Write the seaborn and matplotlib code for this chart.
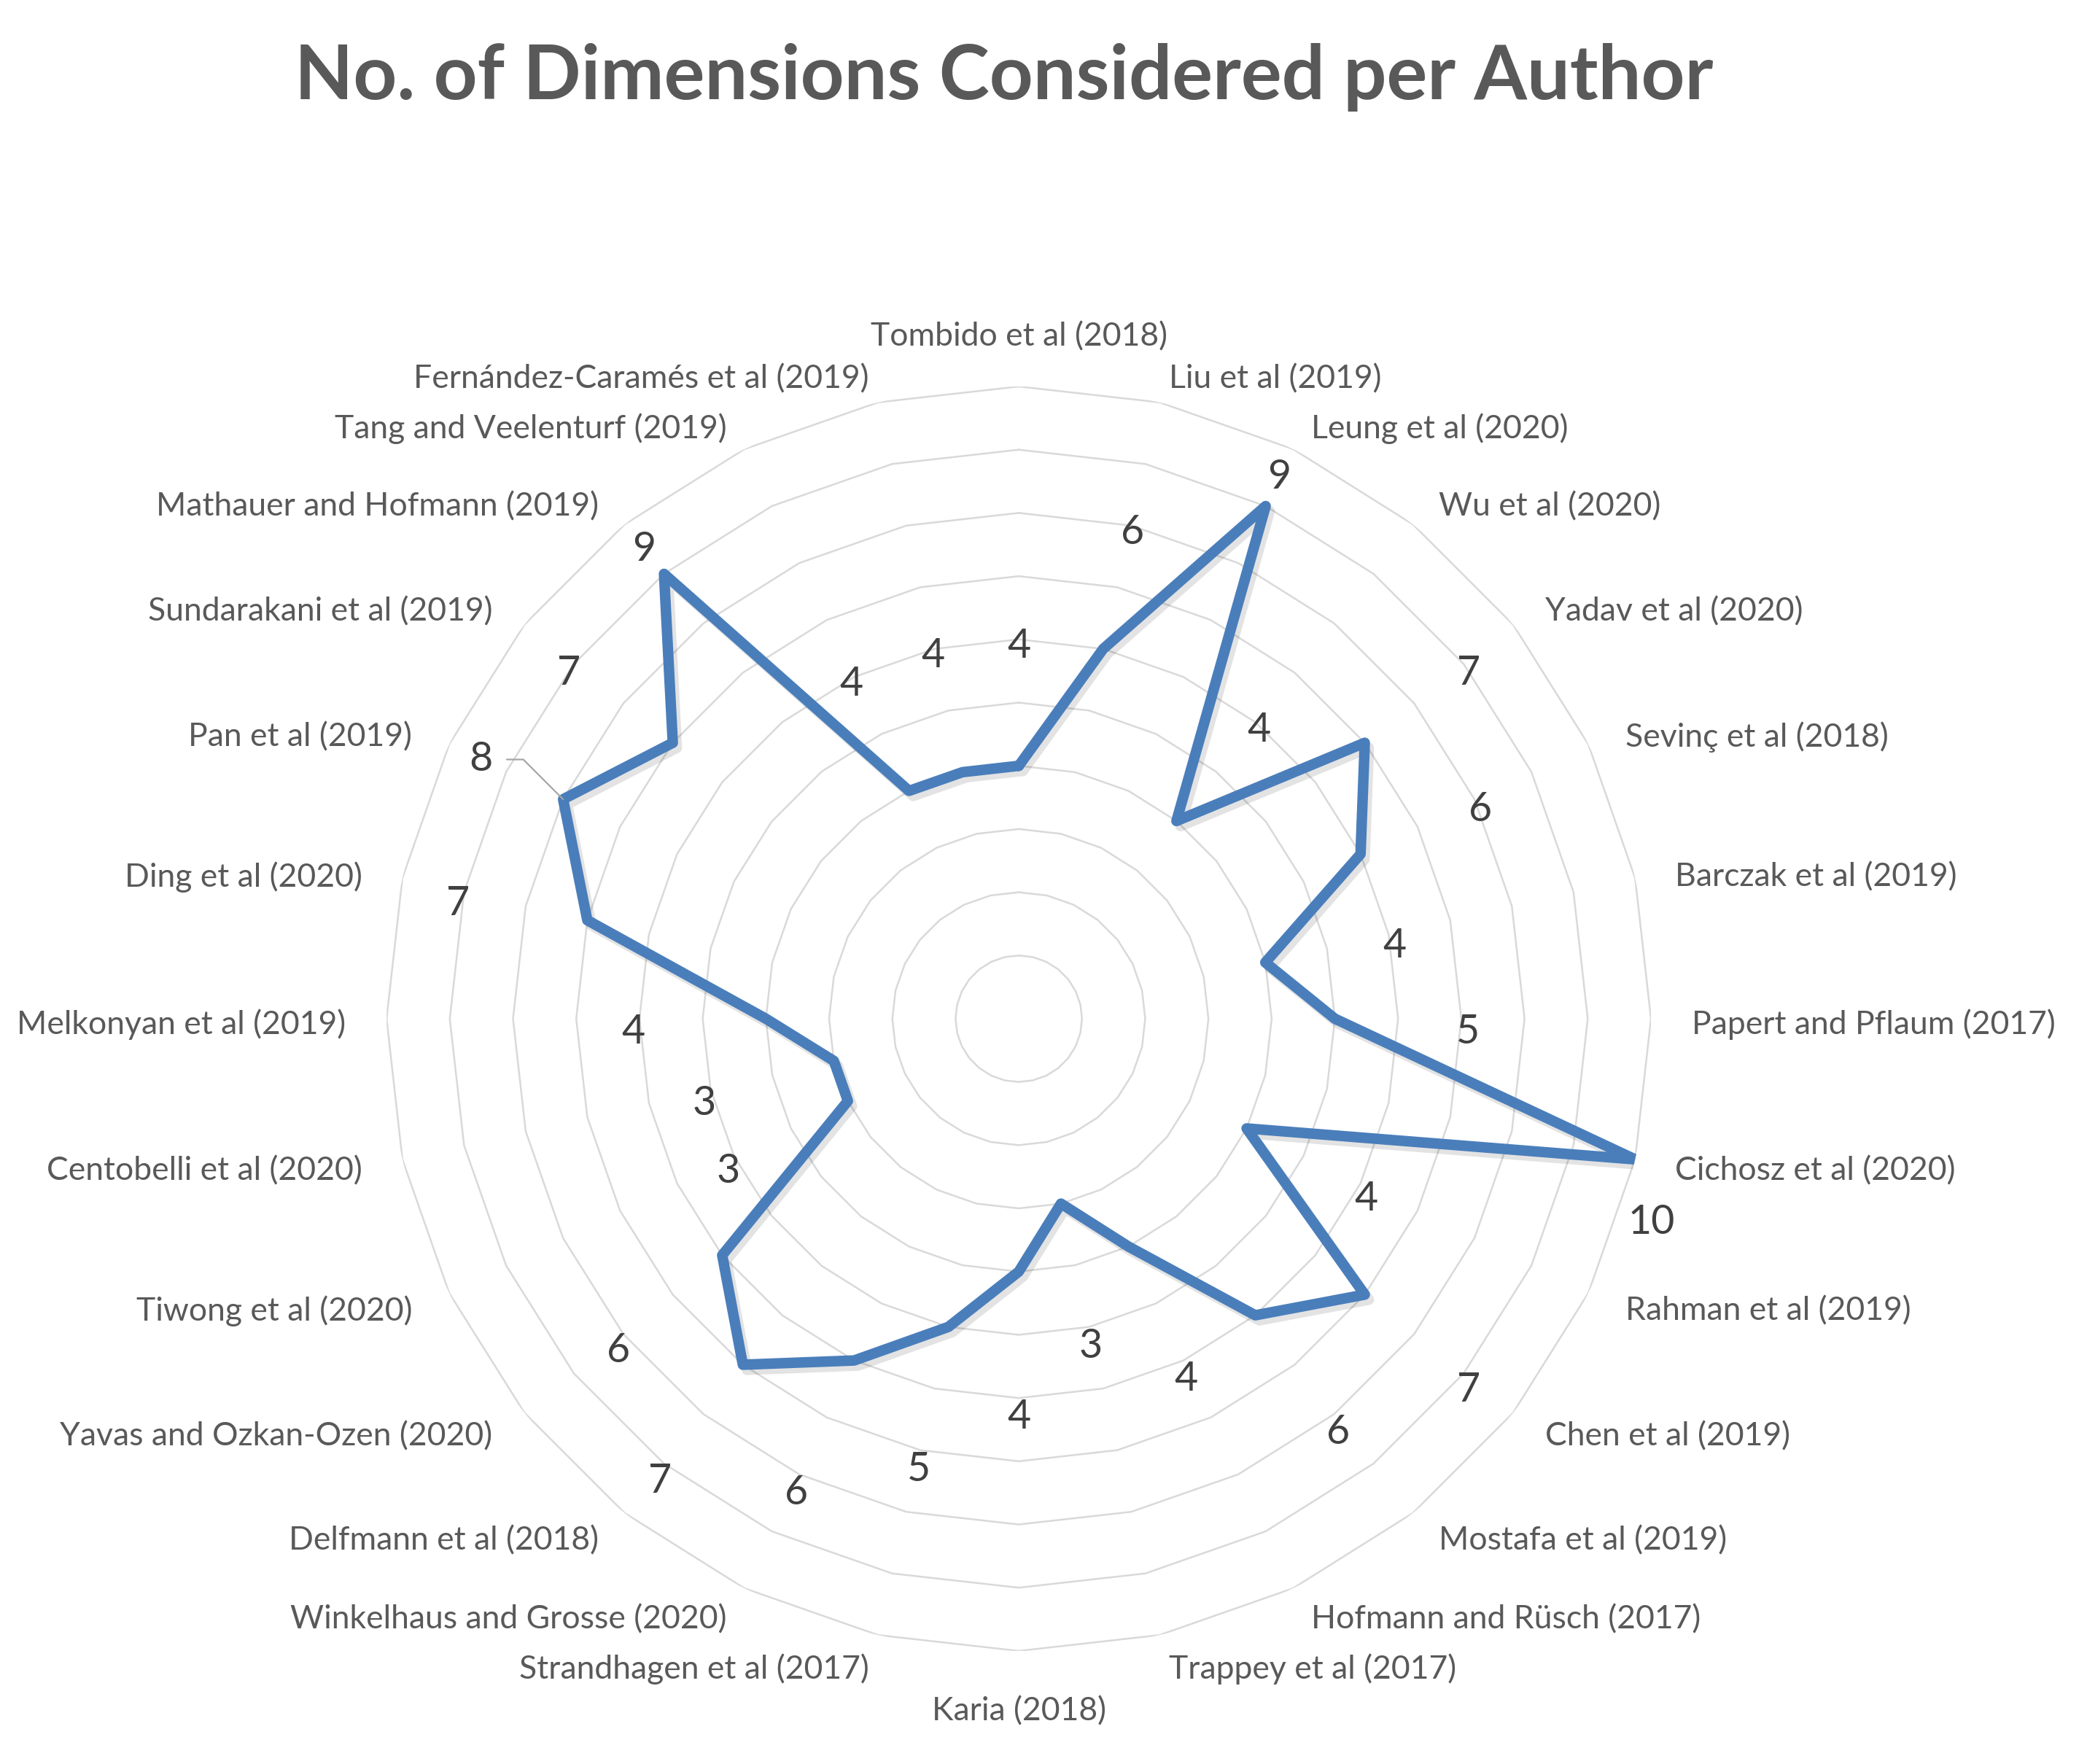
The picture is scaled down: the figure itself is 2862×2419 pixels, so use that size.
import numpy as np
import pandas as pd
import matplotlib
matplotlib.use("Agg")
import matplotlib.pyplot as plt
import matplotlib.patheffects as pe
import seaborn as sns

sns.set_theme(style="white")
plt.rcParams["font.family"] = ["Lato", "DejaVu Sans"]

# authors clockwise from the top
authors = [
    "Tombido et al (2018)", "Liu et al (2019)", "Leung et al (2020)", "Wu et al (2020)",
    "Yadav et al (2020)", "Sevinç et al (2018)", "Barczak et al (2019)",
    "Papert and Pflaum (2017)", "Cichosz et al (2020)", "Rahman et al (2019)",
    "Chen et al (2019)", "Mostafa et al (2019)", "Hofmann and Rüsch (2017)",
    "Trappey et al (2017)", "Karia (2018)", "Strandhagen et al (2017)",
    "Winkelhaus and Grosse (2020)", "Delfmann et al (2018)",
    "Yavas and Ozkan-Ozen (2020)", "Tiwong et al (2020)", "Centobelli et al (2020)",
    "Melkonyan et al (2019)", "Ding et al (2020)", "Pan et al (2019)",
    "Sundarakani et al (2019)", "Mathauer and Hofmann (2019)",
    "Tang and Veelenturf (2019)", "Fernández-Caramés et al (2019)",
]
dimensions = [4, 6, 9, 4, 7, 6, 4, 5, 10, 4, 7, 6, 4, 3, 4, 5, 6, 7, 6, 3, 3, 4, 7, 8, 7, 9, 4, 4]
ring_levels = [1, 2, 3, 4, 5, 6, 7, 8, 9, 10]

df = pd.DataFrame({"author": authors, "dims": dimensions})
n = len(df)
df["theta"] = np.arange(n) * 2 * np.pi / n
closed = pd.concat([df, df.iloc[[0]]], ignore_index=True)

fig = plt.figure(figsize=(14.31, 12.095), dpi=200)
ax = fig.add_axes([0.1852, 0.0641, 0.6059, 0.7168], projection="polar")
ax.set_theta_zero_location("N")
ax.set_theta_direction(-1)
ax.set_ylim(0, 10)
ax.grid(False)
ax.set_xticks([])
ax.set_yticks([])
ax.spines["polar"].set_visible(False)

# polygon gridlines
for r in ring_levels:
    ax.plot(closed["theta"], [r] * len(closed), color="#d9d9d9", lw=0.9, zorder=1)

sns.lineplot(data=closed, x="theta", y="dims", sort=False, estimator=None,
             ax=ax, color="#4a7ebb", lw=5.2, zorder=3)
line = ax.lines[-1]
line.set_solid_joinstyle("round")
line.set_path_effects([pe.SimpleLineShadow(offset=(2, -2.5), alpha=0.12, shadow_color="k"),
                       pe.Normal()])
ax.set_xlabel("")
ax.set_ylabel("")
ax.set_ylim(0, 10)

# category labels around the chart (slightly flattened ring, like Excel)
for th, name in zip(df["theta"], df["author"]):
    s, c = np.sin(th), np.cos(th)
    if abs(s) < 0.01:
        ha, rx, ry = "center", 10.65, 10.87
    else:
        ha, rx, ry = ("left" if s > 0 else "right"), 10.65, 10.46
    ax.text(0.5 + 0.05 * rx * s, 0.5 + 0.05 * ry * c - 0.0042, name,
            transform=ax.transAxes, ha=ha, va="center", fontsize=16,
            color="#595959", clip_on=False)

# data labels
lab_kw = dict(ha="center", va="center", fontsize=20, color="#404040", zorder=4)
for th, v in zip(df["theta"], df["dims"]):
    if v == 10:
        ax.annotate(str(v), xy=(th, v), xytext=(8, -31), textcoords="offset points", **lab_kw)
    elif v == 8:
        ax.annotate(str(v), xy=(th, v), xytext=(th, 9.45), textcoords="data",
                    arrowprops=dict(arrowstyle="-", color="#a6a6a6", lw=0.8,
                                    shrinkA=5, shrinkB=0,
                                    connectionstyle="angle,angleA=0,angleB=135,rad=0"),
                    **lab_kw)
    elif v == 9:
        ax.annotate(str(v), xy=(th, 9.5), xytext=(0, 0), textcoords="offset points", **lab_kw)
    else:
        ax.annotate(str(v), xy=(th, v + 2.1), xytext=(0, -6.5),
                    textcoords="offset points", **lab_kw)

fig.text(0.481, 0.956, "No. of Dimensions Considered per Author", ha="center",
         va="center", fontsize=37.6, fontweight="bold", color="#595959")

fig.savefig("out.png", dpi=200, facecolor="white")
